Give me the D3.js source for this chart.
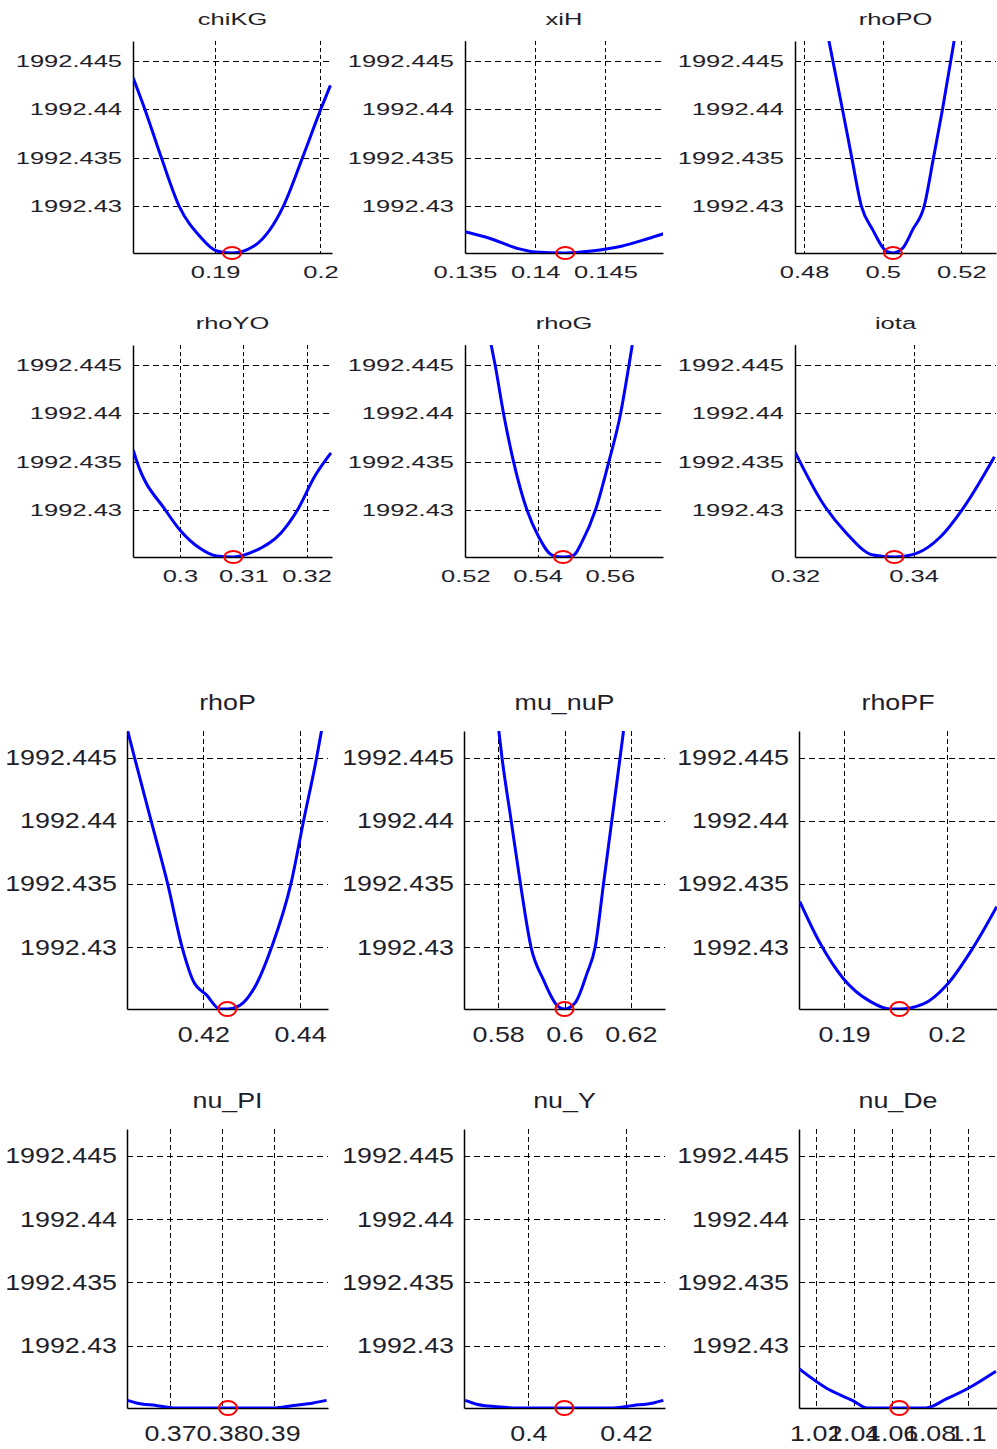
<!DOCTYPE html>
<html>
<head>
<meta charset="utf-8">
<script src="https://cdn.jsdelivr.net/npm/d3@7"></script>
<style>
  body { margin: 0; background: #fff; }
  text { font-family: "Liberation Sans", Arial, sans-serif; fill: #1e1e2a; }
</style>
</head>
<body>
<script>
// panel names, left to right, top to bottom
var titles = ["chiKG", "xiH", "rhoPO", "rhoYO", "rhoG", "iota",
              "rhoP", "mu_nuP", "rhoPF", "nu_PI", "nu_Y", "nu_De"];

var yTicks = [1992.43, 1992.435, 1992.44, 1992.445];
var yLimits = [1992.4251, 1992.4471];

var xLimits = [
  [0.1822, 0.2011], [0.135, 0.1491], [0.4777, 0.5288],
  [0.2926, 0.324], [0.5199, 0.5747], [0.32, 0.3539],
  [0.4042, 0.4458], [0.5697, 0.6303], [0.1856, 0.2049],
  [0.3617, 0.4004], [0.3868, 0.428], [1.0112, 1.1155]
];

var xTicks = [
  [0.19, 0.2], [0.135, 0.14, 0.145], [0.48, 0.5, 0.52],
  [0.3, 0.31, 0.32], [0.52, 0.54, 0.56], [0.32, 0.34],
  [0.42, 0.44], [0.58, 0.6, 0.62], [0.19, 0.2],
  [0.37, 0.38, 0.39], [0.4, 0.42], [1.02, 1.04, 1.06, 1.08, 1.1]
];

// profile of the objective
var curveX = [
  [0.1822, 0.18333, 0.18489, 0.18657, 0.18857, 0.19016, 0.1916, 0.19365, 0.1965, 0.1983, 0.20003, 0.20095],
  [0.135, 0.13679, 0.13869, 0.14, 0.14214, 0.144, 0.14614, 0.14805, 0.14914],
  [0.48633, 0.48977, 0.49213, 0.49456, 0.49747, 0.50086, 0.50261, 0.50506, 0.50759, 0.51056, 0.51291, 0.51519, 0.51815],
  [0.29263, 0.29321, 0.29768, 0.3, 0.30316, 0.30579, 0.30842, 0.31174, 0.31595, 0.31858, 0.32121, 0.32384],
  [0.52714, 0.52825, 0.53056, 0.53333, 0.53703, 0.54028, 0.54398, 0.54703, 0.55, 0.55231, 0.55603, 0.55972, 0.56297, 0.56528, 0.56619],
  [0.32, 0.32466, 0.32864, 0.33318, 0.33676, 0.34057, 0.34455, 0.34852, 0.35364],
  [0.40435, 0.40576, 0.40918, 0.41262, 0.4156, 0.41793, 0.42069, 0.42345, 0.42497, 0.42759, 0.43103, 0.43414, 0.43812, 0.44075, 0.44345, 0.44445],
  [0.5802, 0.58115, 0.58392, 0.58672, 0.5899, 0.59367, 0.59771, 0.6, 0.60323, 0.60675, 0.60925, 0.61176, 0.61426, 0.61676, 0.61779],
  [0.18568, 0.18766, 0.18993, 0.19253, 0.19448, 0.19539, 0.19773, 0.2, 0.2026, 0.20487],
  [0.3618, 0.36349, 0.3673, 0.37128, 0.38115, 0.38987, 0.39371, 0.39756, 0.40013],
  [0.38704, 0.38942, 0.39352, 0.39761, 0.40737, 0.41672, 0.4215, 0.4256, 0.42765],
  [1.0112, 1.02528, 1.03932, 1.04723, 1.064, 1.07804, 1.08859, 1.10087, 1.11495]
];
var curveY = [
  [1992.4433, 1992.44, 1992.435, 1992.43, 1992.4268, 1992.4253, 1992.4251, 1992.4258, 1992.43, 1992.435, 1992.44, 1992.4425],
  [1992.4273, 1992.4266, 1992.4256, 1992.4252, 1992.4251, 1992.4253, 1992.4258, 1992.4266, 1992.4271],
  [1992.4471, 1992.44, 1992.435, 1992.43, 1992.4275, 1992.4253, 1992.4251, 1992.4256, 1992.4275, 1992.43, 1992.435, 1992.44, 1992.4471],
  [1992.4362, 1992.435, 1992.43, 1992.4279, 1992.426, 1992.4252, 1992.4251, 1992.4257, 1992.4276, 1992.43, 1992.4334, 1992.4359],
  [1992.4471, 1992.445, 1992.44, 1992.435, 1992.43, 1992.4272, 1992.4253, 1992.4251, 1992.4253, 1992.4267, 1992.43, 1992.435, 1992.44, 1992.445, 1992.4471],
  [1992.436, 1992.4307, 1992.4276, 1992.4253, 1992.4251, 1992.4255, 1992.4272, 1992.4303, 1992.4355],
  [1992.4471, 1992.445, 1992.44, 1992.435, 1992.43, 1992.4273, 1992.4262, 1992.4251, 1992.4251, 1992.4254, 1992.4271, 1992.43, 1992.435, 1992.44, 1992.445, 1992.4471],
  [1992.4471, 1992.445, 1992.44, 1992.435, 1992.43, 1992.4274, 1992.4254, 1992.4251, 1992.4256, 1992.4279, 1992.43, 1992.435, 1992.44, 1992.445, 1992.4471],
  [1992.4336, 1992.4303, 1992.4275, 1992.4257, 1992.4251, 1992.4251, 1992.4255, 1992.427, 1992.43, 1992.4332],
  [1992.4257, 1992.4255, 1992.4253, 1992.4251, 1992.4251, 1992.4251, 1992.4253, 1992.4255, 1992.4257],
  [1992.4257, 1992.4254, 1992.4252, 1992.4251, 1992.4251, 1992.4251, 1992.4253, 1992.4255, 1992.4257],
  [1992.4282, 1992.4267, 1992.4257, 1992.4251, 1992.4251, 1992.4251, 1992.4258, 1992.4267, 1992.428]
];

// optimum (red circle)
var optX = [0.1916, 0.14214, 0.50261, 0.30842, 0.54703, 0.33676, 0.42497, 0.6, 0.19539, 0.38115, 0.40737, 1.064];
var optY = [1992.4251, 1992.4251, 1992.4251, 1992.4251, 1992.4251, 1992.4251,
            1992.4251, 1992.4251, 1992.4251, 1992.4251, 1992.4251, 1992.4251];

// layout: two stacked figures, the lower one rendered a bit larger
var rows = [{top: 41, bottom: 253}, {top: 345, bottom: 557}, {top: 731, bottom: 1009}, {top: 1129, bottom: 1408}];
var colsSmall = [[133, 332], [465, 663], [795, 996]];
var colsBig = [[127, 328], [464, 665], [799, 997]];
var styleSmall = {fs: 17, sx: 1.5, titleGap: 16, xPad: 13, yPad: 11, ry: 6, hDash: "6,4", vDash: "4,3"};
var styleBig = {fs: 22, sx: 1.22, titleGap: 21, xPad: 17, yPad: 10, ry: 7, hDash: "6,4", vDash: "5,3"};

var svg = d3.select("body").append("svg")
  .attr("width", 997)
  .attr("height", 1449);

titles.forEach(function(name, i) {
  var r = Math.floor(i / 3), c = i % 3;
  var big = r >= 2;
  var st = big ? styleBig : styleSmall;
  var cols = big ? colsBig : colsSmall;
  var x0 = cols[c][0], x1 = cols[c][1];
  var top = rows[r].top, bottom = rows[r].bottom;

  var x = d3.scaleLinear().domain(xLimits[i]).range([x0, x1]);
  var y = d3.scaleLinear().domain(yLimits).range([bottom, top]);

  var g = svg.append("g");

  g.append("clipPath").attr("id", "clip" + i)
    .append("rect")
    .attr("x", x0).attr("y", top)
    .attr("width", x1 - x0).attr("height", bottom - top);

  // grid
  g.selectAll(".hgrid")
    .data(yTicks)
    .enter().append("line")
    .attr("x1", x0).attr("x2", x1)
    .attr("y1", function(d) { return Math.round(y(d)) + 0.5; })
    .attr("y2", function(d) { return Math.round(y(d)) + 0.5; })
    .attr("stroke", "#000").attr("stroke-width", 1)
    .attr("stroke-dasharray", st.hDash)
    .attr("shape-rendering", "crispEdges");
  g.selectAll(".vgrid")
    .data(xTicks[i])
    .enter().append("line")
    .attr("x1", function(d) { return Math.round(x(d)) + 0.5; })
    .attr("x2", function(d) { return Math.round(x(d)) + 0.5; })
    .attr("y1", top).attr("y2", bottom)
    .attr("stroke", "#000").attr("stroke-width", 1)
    .attr("stroke-dasharray", st.vDash)
    .attr("shape-rendering", "crispEdges");

  // axes
  var yAxis = g.append("g")
    .attr("transform", "translate(" + x0 + ",0)")
    .call(d3.axisLeft(y).tickValues(yTicks).tickSize(0).tickPadding(st.yPad)
      .tickFormat(function(d) { return String(d); }));
  var xAxis = g.append("g")
    .attr("transform", "translate(0," + bottom + ")")
    .call(d3.axisBottom(x).tickValues(xTicks[i]).tickSize(0).tickPadding(st.xPad)
      .tickFormat(function(d) { return String(d); }));

  [yAxis, xAxis].forEach(function(a) {
    a.attr("font-family", null).attr("font-size", st.fs);
    a.select(".domain").attr("stroke", "#000").attr("stroke-width", 1.5);
  });
  // the picture is stretched sideways, so stretch the labels the same way
  yAxis.selectAll("text")
    .attr("transform", "translate(" + (-st.yPad) + ",0) scale(" + st.sx + ",1)")
    .attr("x", 0);
  xAxis.selectAll("text")
    .attr("transform", "scale(" + st.sx + ",1)");

  g.append("text")
    .attr("transform", "translate(" + ((x0 + x1) / 2) + "," + (top - st.titleGap) + ") scale(" + st.sx + ",1)")
    .attr("text-anchor", "middle")
    .attr("font-size", st.fs)
    .text(name);

  // profile
  var pts = curveX[i].map(function(v, k) { return [v, curveY[i][k]]; });
  var line = d3.line()
    .x(function(d) { return x(d[0]); })
    .y(function(d) { return y(d[1]); })
    .curve(d3.curveMonotoneX);
  g.append("path")
    .datum(pts)
    .attr("clip-path", "url(#clip" + i + ")")
    .attr("d", line)
    .attr("fill", "none")
    .attr("stroke", "#0000ff")
    .attr("stroke-width", 3)
    .attr("stroke-linejoin", "round");

  g.append("ellipse")
    .attr("cx", x(optX[i]))
    .attr("cy", y(optY[i]))
    .attr("rx", 9).attr("ry", st.ry)
    .attr("fill", "none")
    .attr("stroke", "#ff0000")
    .attr("stroke-width", 2);
});
</script>
</body>
</html>
